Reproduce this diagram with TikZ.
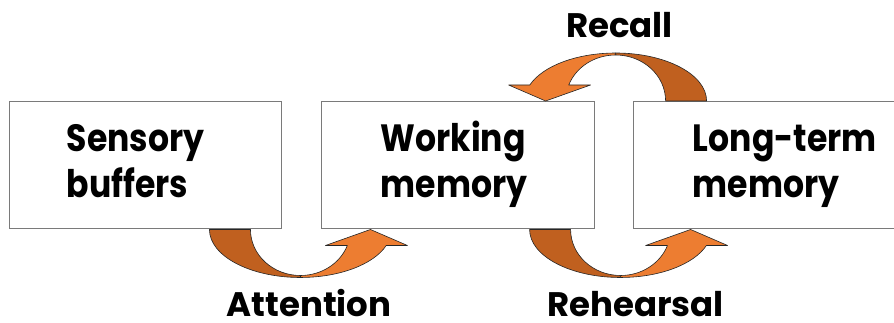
\documentclass[tikz,border=0pt]{standalone}
\usepackage{fontspec}
\setmainfont{Poppins}
\newfontfamily\boxfont{Poppins}[FakeStretch=0.87]
\usetikzlibrary{calc}
\definecolor{arrowlight}{HTML}{ED7D31}
\definecolor{arrowdark}{HTML}{C0601F}
\definecolor{boxline}{HTML}{7A7A7A}
\tikzset{
  memorybox/.style={draw=boxline, line width=1pt, fill=white,
    minimum width=272.4pt, minimum height=127.5pt, inner sep=0pt},
  boxtext/.style={font=\boxfont\fontsize{38}{46}\selectfont\bfseries, align=left,
    anchor=base west, inner sep=0pt},
  steplabel/.style={font=\fontsize{34}{40}\selectfont\bfseries, anchor=base, inner sep=0pt},
  bandedge/.style={draw=black!85, line width=0.6pt, line join=round},
  pics/curvedarrow/.style={code={
    \path[fill=arrowdark, bandedge] (-91pt,0pt)
      arc[start angle=180, end angle=270, x radius=91pt, y radius=48pt]
      -- (0pt,-46pt)
      arc[start angle=270, end angle=180, x radius=50pt, y radius=46pt] -- cycle;
    \path[fill=arrowlight, bandedge] (0pt,-46pt)
      arc[start angle=270, end angle=339.6, x radius=50pt, y radius=46pt]
      -- (25pt,-16pt) -- (70pt,0pt) -- (107pt,-16pt) -- (85.8pt,-16pt)
      arc[start angle=340.5, end angle=270, x radius=91pt, y radius=48pt] -- cycle;
  }}
}
\begin{document}
\begin{tikzpicture}[x=1pt,y=1pt]
\useasboundingbox (0,0) rectangle (894,323);
\clip (0,0) rectangle (894,323);
% boxes
\node[memorybox] (sensory) at (145.75,157.75) {};
\node[memorybox] (working) at (457.9,157.75) {};
\node[memorybox] (longterm) at (769.7,157.75) {};
\node[boxtext] (sensorytext) at ($(sensory.west)+(57.5,-32.75)$) {Sensory\\buffers};
\node[boxtext] (workingtext) at ($(working.west)+(59.3,-32.75)$) {Working\\memory};
\node[boxtext] (longtermtext) at ($(longterm.west)+(59.7,-32.75)$) {Long-term\\memory};
% arrow centres
\coordinate (attc) at ($(sensory.south east)+(18,0)$);
\coordinate (rehc) at ($(working.south east)+(26,0)$);
\coordinate (recc) at ($(working.north east)+(21,0)$);
\pic at (attc) {curvedarrow};
\pic at (rehc) {curvedarrow};
\pic[rotate=180] at (recc) {curvedarrow};
% labels
\node[steplabel] (attention) at ($(attc)+(8.5,-87)$) {Attention};
\node[steplabel] (rehearsal) at ($(rehc)+(15,-87)$) {Rehearsal};
\node[steplabel] (recall) at ($(recc)+(4,63.7)$) {Recall};
\end{tikzpicture}
\end{document}
